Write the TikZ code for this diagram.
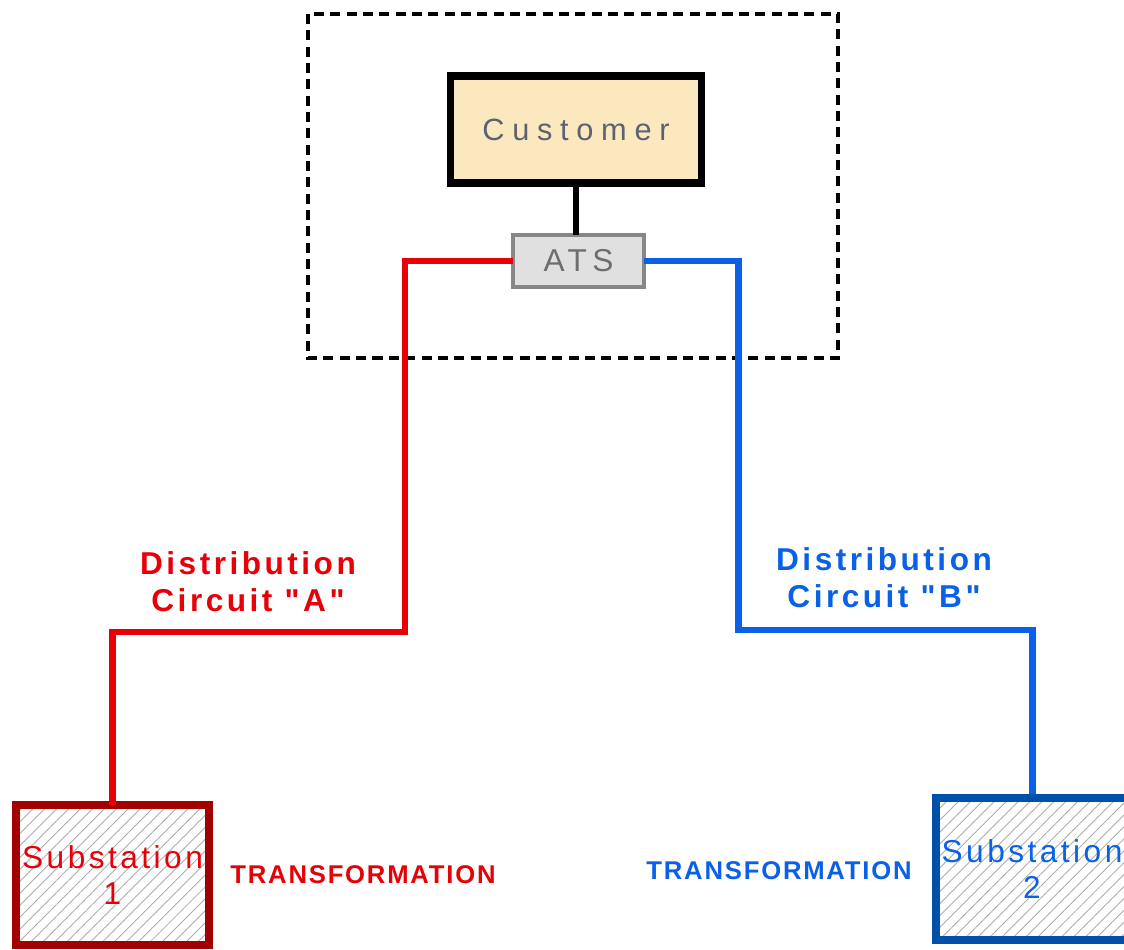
\documentclass[tikz,border=0pt]{standalone}
\usepackage{fontspec}
\setmainfont{Liberation Sans}
\newfontfamily\CustFont[LetterSpace=25]{Liberation Sans}
\newfontfamily\AtsFont[LetterSpace=17]{Liberation Sans}
\newfontfamily\SpacedFont[LetterSpace=11]{Liberation Sans}
\newfontfamily\TransFont[LetterSpace=7]{Liberation Sans}
\usetikzlibrary{patterns.meta}
\definecolor{LineRed}{rgb}{0.91,0,0.03}
\definecolor{BoxRed}{rgb}{0.64,0,0}
\definecolor{LineBlue}{rgb}{0.04,0.38,0.91}
\definecolor{BoxBlue}{rgb}{0,0.31,0.66}
\definecolor{CustFill}{rgb}{0.99,0.91,0.75}
\definecolor{AtsFill}{rgb}{0.88,0.88,0.88}
\definecolor{AtsBorder}{rgb}{0.53,0.53,0.53}
\definecolor{CustText}{rgb}{0.36,0.39,0.44}
\definecolor{AtsText}{rgb}{0.43,0.43,0.43}
\definecolor{HatchClr}{rgb}{0.68,0.68,0.68}

\begin{document}
\begin{tikzpicture}[x=0.02cm,y=-0.02cm,
  SubBox/.style={draw,minimum width=3.82cm,line width=4.5pt,align=center,
    pattern={Lines[angle=45,distance=4.8pt,line width=0.5pt]},pattern color=HatchClr,
    font={\SpacedFont\fontsize{18}{20.5}\selectfont}},
  CircuitLabel/.style={align=center,font={\SpacedFont\bfseries\fontsize{18}{21}\selectfont}},
  TransLabel/.style={font={\TransFont\bfseries\fontsize{14.6}{17}\selectfont}},
  Wire/.style={line width=3.97pt}]
\clip (0,0) rectangle (1124,949);
\fill[white] (0,0) rectangle (1124,949);

\draw[line width=2.27pt,dash pattern=on 5.7pt off 3.6pt] (308,14) rectangle (838,358);

\node[draw,fill=CustFill,line width=4.5pt,minimum width=5.02cm,minimum height=2.14cm,
  text=CustText,font={\CustFont\fontsize{17.5}{20}\selectfont}] (cust) at (576,129.5) {Customer};
\node[draw=AtsBorder,fill=AtsFill,line width=2.27pt,outer sep=0pt,minimum width=2.62cm,
  minimum height=1.04cm,text=AtsText,font={\AtsFont\fontsize{18}{20}\selectfont}] (ats) at (578.5,261) {ATS};

\node[SubBox,draw=BoxRed,text=LineRed,minimum height=2.8cm] (sub1) at (112.5,875) {Substation\\1};
\node[SubBox,draw=BoxBlue,text=LineBlue,minimum height=2.84cm] (sub2) at (1032,869) {Substation\\2};

\node[CircuitLabel,text=LineRed] (circA) at (248,582) {Distribution\\Circuit "A"};
\node[CircuitLabel,text=LineBlue] (circB) at (884,578) {Distribution\\Circuit "B"};

\node[TransLabel,text=LineRed] (transA) at (363,875) {TRANSFORMATION};
\node[TransLabel,text=LineBlue] (transB) at (779,871) {TRANSFORMATION};

\coordinate (bendA) at (405,632);
\coordinate (bendB) at (738,630);

\draw[Wire,LineRed] (ats.west) -| (bendA) -| (sub1.north);
\draw[Wire,LineBlue] (ats.east) -| (bendB) -| (sub2.north);
\draw[line width=3.4pt] (cust.south) -- (cust.south |- ats.north);
\end{tikzpicture}
\end{document}
